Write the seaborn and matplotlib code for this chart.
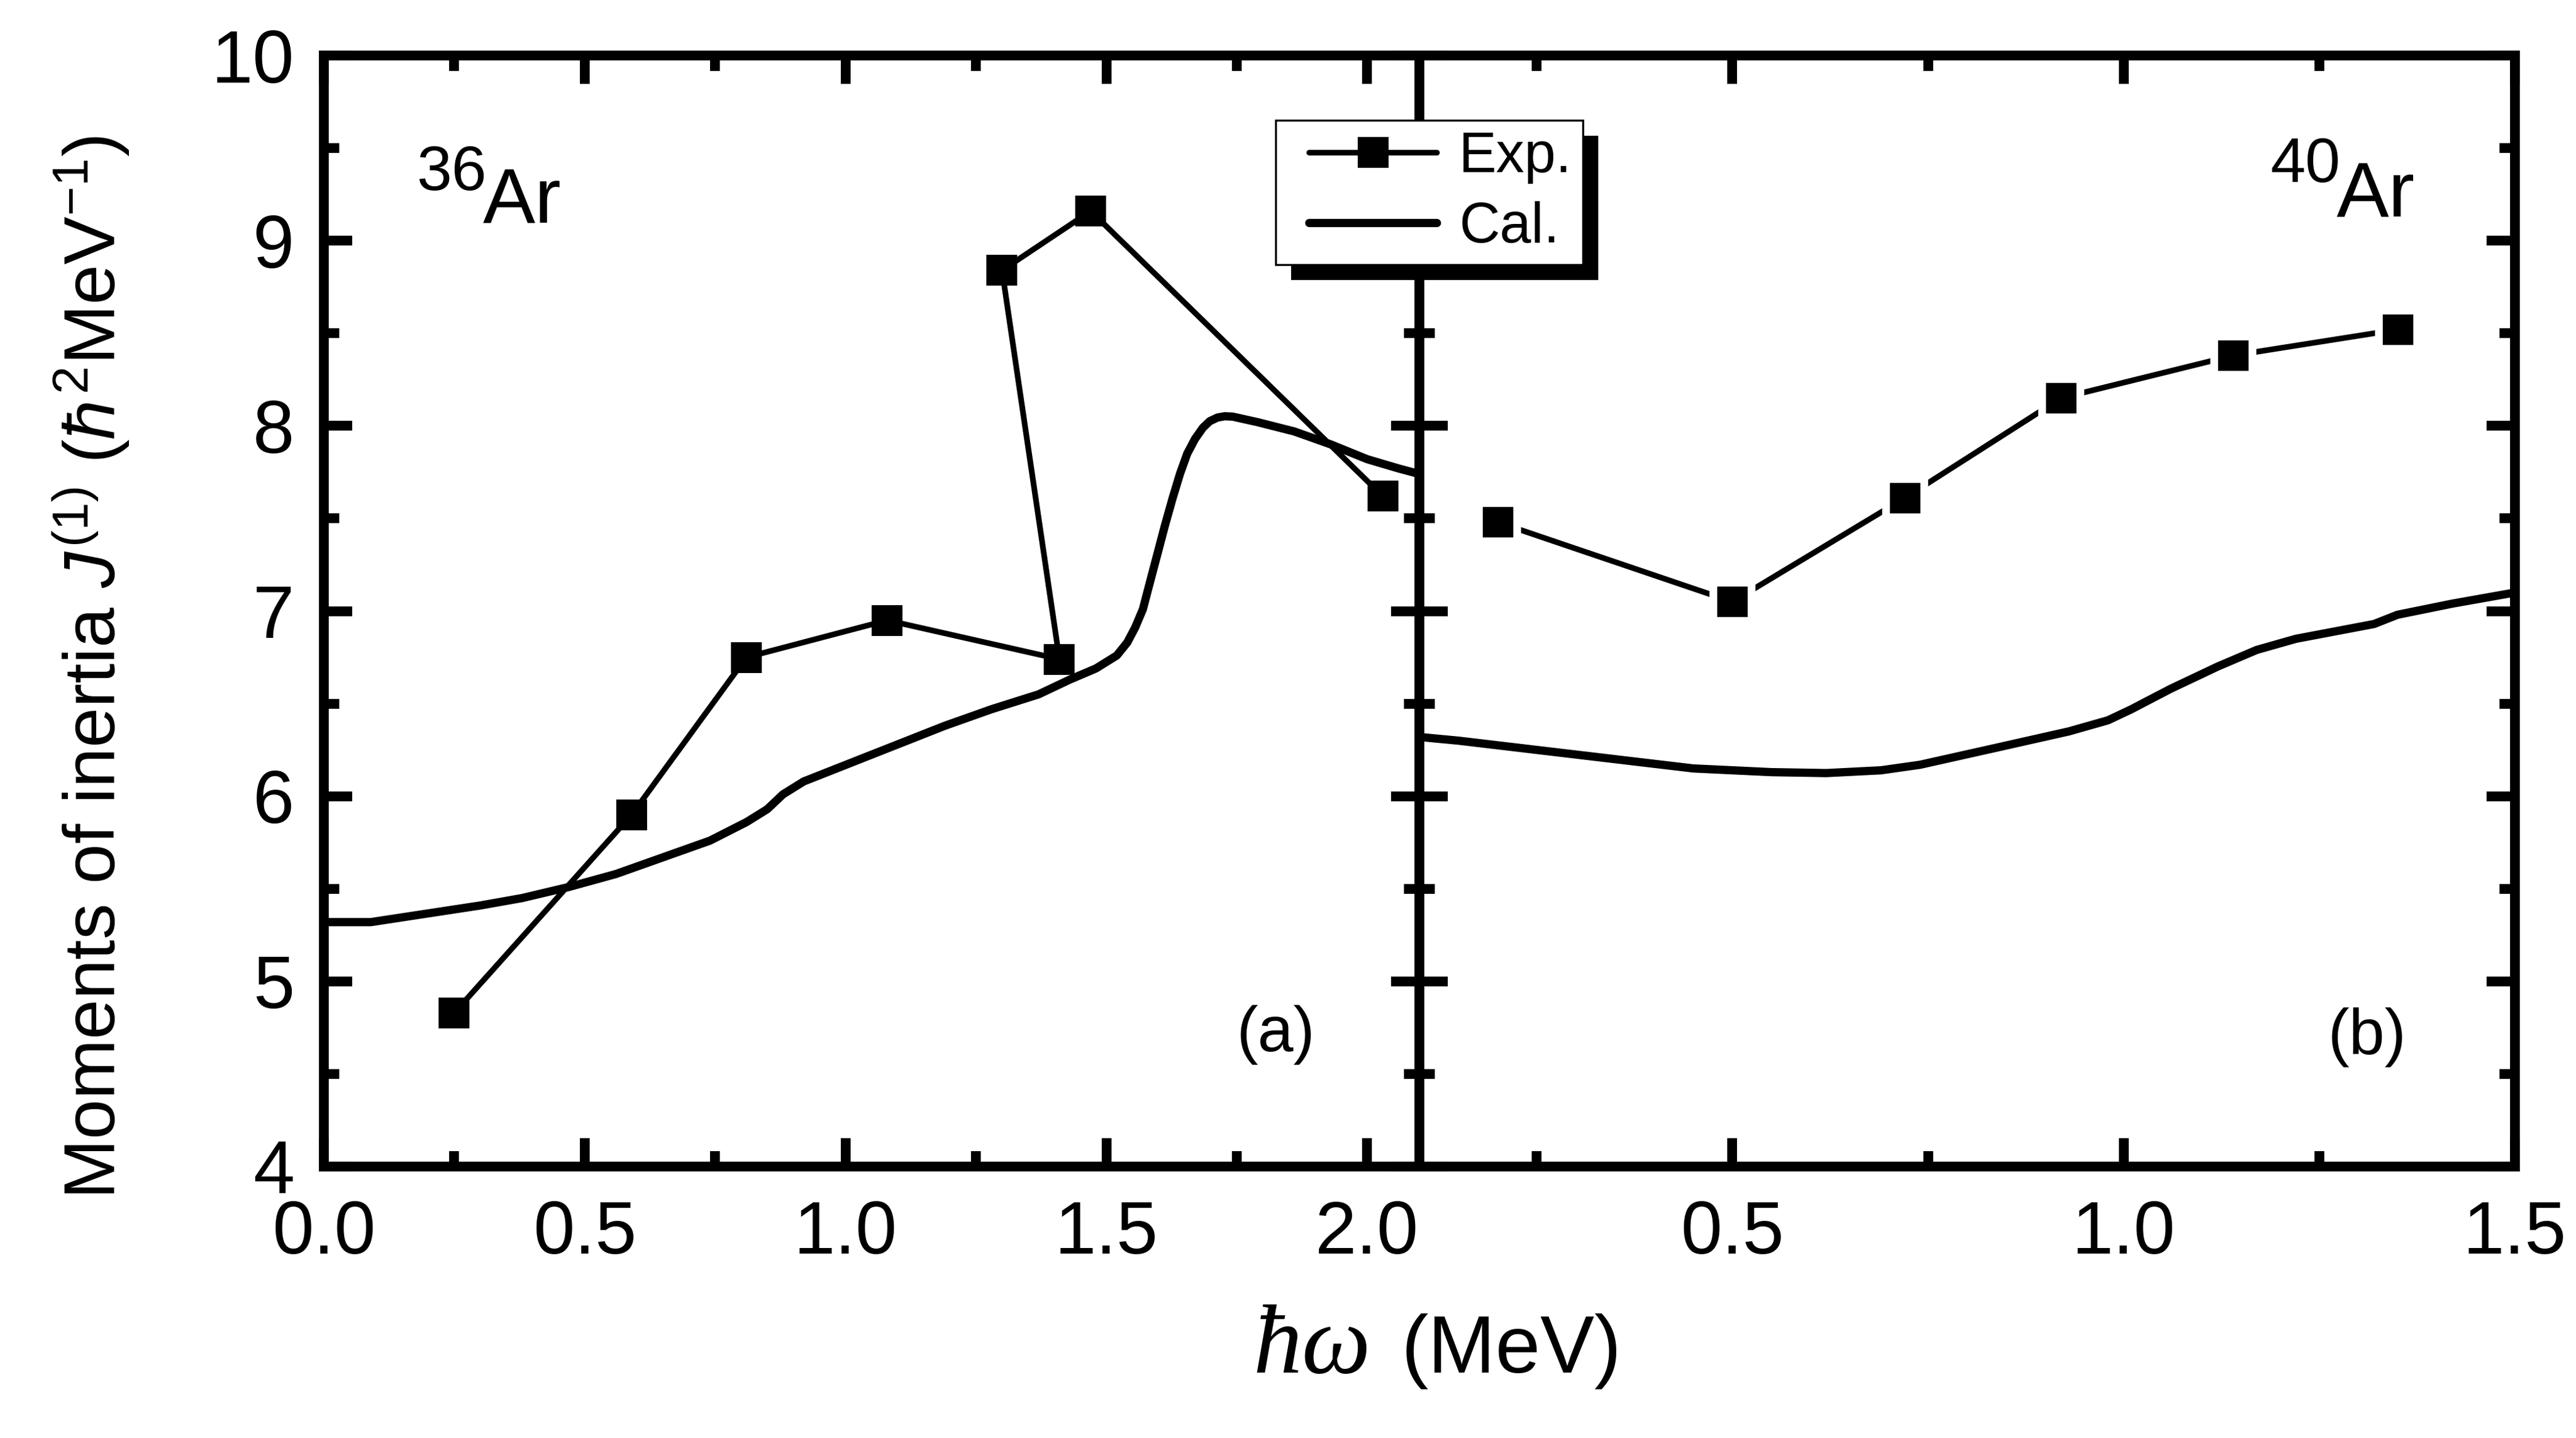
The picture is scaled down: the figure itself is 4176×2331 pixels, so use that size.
import numpy as np
import pandas as pd
import matplotlib
matplotlib.use("Agg")
import matplotlib.pyplot as plt
import seaborn as sns
from matplotlib.ticker import MultipleLocator, FormatStrFormatter
from matplotlib.legend_handler import HandlerLine2D
from matplotlib.patches import Rectangle

# ---------------- data ----------------
# (a) 36Ar
left_exp_x = [0.25, 0.59, 0.81, 1.08, 1.41, 1.30, 1.47, 2.03]
left_exp_y = [4.83, 5.90, 6.75, 6.95, 6.74, 8.84, 9.16, 7.62]

left_cal_x = [0.00, 0.09, 0.16, 0.23, 0.30, 0.38, 0.47, 0.56, 0.65, 0.74,
              0.81, 0.85, 0.88, 0.92, 1.01, 1.10, 1.19, 1.28, 1.37, 1.43,
              1.48, 1.52, 1.54, 1.555, 1.57, 1.583, 1.598, 1.612, 1.627,
              1.641, 1.655, 1.670, 1.685, 1.698, 1.713, 1.727, 1.742,
              1.79, 1.86, 1.93, 2.00, 2.06, 2.10]
left_cal_y = [5.32, 5.32, 5.35, 5.38, 5.41, 5.45, 5.51, 5.58, 5.67, 5.76,
              5.86, 5.93, 6.01, 6.08, 6.18, 6.28, 6.38, 6.47, 6.55, 6.63,
              6.69, 6.76, 6.83, 6.91, 7.01, 7.15, 7.31, 7.46, 7.61,
              7.74, 7.85, 7.93, 7.99, 8.025, 8.045, 8.052, 8.05,
              8.02, 7.97, 7.90, 7.82, 7.77, 7.74]

# (b) 40Ar
right_exp_x = [0.20, 0.50, 0.72, 0.92, 1.14, 1.35]
right_exp_y = [7.48, 7.05, 7.61, 8.15, 8.38, 8.52]

right_cal_x = [0.10, 0.15, 0.25, 0.35, 0.45, 0.55, 0.62, 0.69, 0.74, 0.83,
               0.93, 0.98, 1.01, 1.06, 1.12, 1.17, 1.22, 1.32, 1.35, 1.42, 1.50]
right_cal_y = [6.32, 6.30, 6.25, 6.20, 6.15, 6.13, 6.125, 6.14, 6.17, 6.255,
               6.35, 6.41, 6.47, 6.58, 6.70, 6.79, 6.85, 6.93, 6.98, 7.04, 7.10]

y_ticks = [4, 5, 6, 7, 8, 9, 10]
legend_labels = ["Exp.", "Cal."]

# ---------------- style ----------------
sns.set_style("ticks", rc={"axes.edgecolor": "k", "xtick.color": "k",
                           "ytick.color": "k", "text.color": "k",
                           "axes.labelcolor": "k"})
plt.rcParams["font.family"] = ["Liberation Sans", "DejaVu Sans"]
plt.rcParams["mathtext.fontset"] = "custom"
plt.rcParams["mathtext.rm"] = "Liberation Sans"
plt.rcParams["mathtext.it"] = "Liberation Sans:italic"
plt.rcParams["mathtext.bf"] = "Liberation Sans:bold"

W, H, DPI = 4176, 2331, 300
fig = plt.figure(figsize=(W / DPI, H / DPI), dpi=DPI)
fig.patch.set_facecolor("white")
ax1 = fig.add_axes([525 / W, 1 - 1891 / H, 1776 / W, 1801 / H])
ax2 = fig.add_axes([2301 / W, 1 - 1891 / H, 1776 / W, 1801 / H])

# ---------------- plots ----------------
sns.lineplot(x=left_cal_x, y=left_cal_y, ax=ax1, color="k", linewidth=3.2,
             estimator=None, legend=False)
sns.lineplot(x=left_exp_x, y=left_exp_y, ax=ax1, color="k", linewidth=2.2,
             sort=False, estimator=None, marker="s", markersize=12,
             markeredgewidth=0, legend=False)
cal_h = ax1.lines[0]
exp_h = ax1.lines[1]
cal_h.set_solid_joinstyle("round")

sns.lineplot(x=right_cal_x, y=right_cal_y, ax=ax2, color="k", linewidth=3.2,
             estimator=None, legend=False)
sns.lineplot(x=right_exp_x, y=right_exp_y, ax=ax2, color="k", linewidth=2.2,
             sort=False, estimator=None, marker="s", markersize=15,
             markeredgewidth=3, markeredgecolor="white", markerfacecolor="k",
             legend=False)
ax2.lines[0].set_solid_joinstyle("round")

# ---------------- axes ----------------
for ax in (ax1, ax2):
    ax.set_ylim(4, 10)
    ax.set_yticks(y_ticks)
    ax.yaxis.set_minor_locator(MultipleLocator(0.5))
    ax.xaxis.set_major_locator(MultipleLocator(0.5))
    ax.xaxis.set_minor_locator(MultipleLocator(0.25))
    ax.xaxis.set_major_formatter(FormatStrFormatter("%.1f"))
    ax.tick_params(which="both", direction="in", top=True, right=True,
                   width=3.8, labelsize=29)
    ax.tick_params(which="major", length=11)
    ax.tick_params(which="minor", length=6)
    ax.tick_params(axis="x", which="major", pad=13)
    ax.tick_params(axis="y", which="major", pad=11.5)
    for s in ax.spines.values():
        s.set_linewidth(3.8)
        s.set_capstyle("projecting")
        s.set_visible(True)
    ax.set_xlabel("")
    ax.set_ylabel("")
    ax.set_facecolor("white")

ax1.set_xlim(0, 2.1)
ax2.set_xlim(0.1, 1.5)
ax2.tick_params(labelleft=False)

# ---------------- annotations ----------------
ax1.text(0.0845, 0.879, "36", transform=ax1.transAxes, fontsize=24.5,
         ha="left", va="baseline")
ax1.text(0.1453, 0.849, "Ar", transform=ax1.transAxes, fontsize=30.5,
         ha="left", va="baseline")
ax2.text(0.777, 0.886, "40", transform=ax2.transAxes, fontsize=24.5,
         ha="left", va="baseline")
ax2.text(0.837, 0.855, "Ar", transform=ax2.transAxes, fontsize=30.5,
         ha="left", va="baseline")
ax1.text(0.833, 0.104, "(a)", transform=ax1.transAxes, fontsize=25,
         ha="left", va="baseline")
ax2.text(0.829, 0.1016, "(b)", transform=ax2.transAxes, fontsize=25,
         ha="left", va="baseline")

# axis labels
fig.text(2222 / W, 1 - 2225 / H, "ħω", family=["Liberation Serif", "DejaVu Serif"],
         style="italic", fontsize=38, ha="right", va="baseline")
fig.text(2272 / W, 1 - 2225 / H, "(MeV)", fontsize=31.5, ha="left",
         va="baseline")
fig.text(187.5 / W, 1 - 1082 / H,
         r"Moments of inertia $J^{(1)}$ ($\hbar^{2}$MeV$^{-1}$)",
         rotation=90, rotation_mode="anchor", ha="center", va="baseline",
         fontsize=28)

# ---------------- legend ----------------
leg = fig.legend(handles=[exp_h, cal_h], labels=legend_labels,
                 loc="upper left", bbox_to_anchor=(2068 / W, 1 - 195 / H),
                 bbox_transform=fig.transFigure, borderaxespad=0,
                 frameon=True, fancybox=False, framealpha=1, edgecolor="k",
                 fontsize=22, borderpad=0.19, labelspacing=0.3,
                 handlelength=2.66, handletextpad=0.39,
                 handler_map={exp_h: HandlerLine2D(xpad=0.4),
                              cal_h: HandlerLine2D(xpad=0.4)})
leg.get_frame().set_linewidth(0.8)
leg.set_zorder(10)

fig.canvas.draw()
bb = leg.get_window_extent()
inv = fig.transFigure.inverted()
off = 25
(sx0, sy0) = inv.transform((bb.x0 + off, bb.y0 - off))
(sx1, sy1) = inv.transform((bb.x1 + off, bb.y1 - off))
fig.add_artist(Rectangle((sx0, sy0), sx1 - sx0, sy1 - sy0,
                         transform=fig.transFigure, facecolor="k",
                         edgecolor="none", zorder=9))

fig.savefig("out.png", dpi=DPI, facecolor="white")
